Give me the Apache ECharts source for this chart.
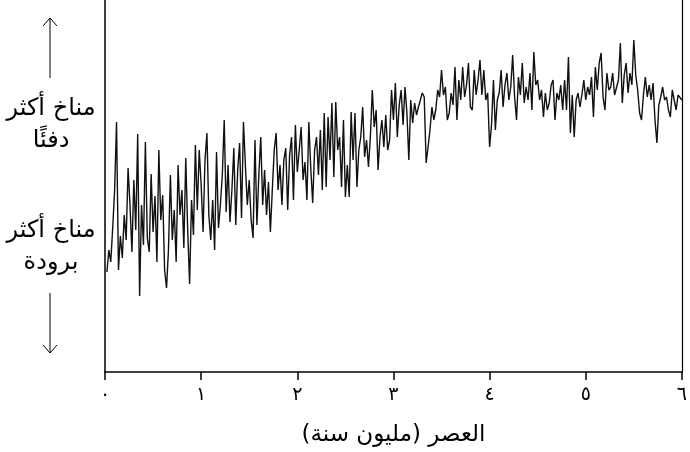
<!DOCTYPE html>
<html>
<head>
<meta charset="utf-8">
<script src="https://cdn.jsdelivr.net/npm/echarts@6/dist/echarts.min.js"></script>
<style>html,body{margin:0;padding:0;background:#fff}#c{width:690px;height:452px}</style>
</head>
<body>
<div id="c"></div>
<script>
// Climate proxy index (inverted scale: smaller = warmer), sampled every ageStep Ma starting at ageStep
var ageStep = 0.02;
var proxyValues = [
272,250,262,228,190,122,270,236,258,215,
240,168,205,252,180,230,134,296,205,245,
142,238,252,174,232,196,262,150,220,195,
270,288,250,175,240,210,262,165,215,190,
248,158,230,284,200,235,145,210,150,
185,232,160,133,215,240,200,250,152,228,
205,175,120,212,165,222,190,148,225,170,
143,218,122,165,205,180,220,238,140,225,
175,137,205,170,215,182,232,190,150,133,
190,165,205,160,148,210,155,137,200,
125,172,150,127,180,162,200,122,168,203,
150,137,175,130,190,113,187,117,160,103,
177,102,150,137,187,120,197,165,197,112,
160,113,187,150,137,107,157,140,167,137,
90,127,110,170,137,120,147,115,
150,140,90,120,83,137,105,90,125,87,
113,160,100,123,103,115,107,100,93,97,
163,147,130,107,120,110,90,97,70,95,
87,120,113,93,105,67,120,80,100,67,
97,85,63,107,110,70,95,80,60,
95,70,100,93,147,125,80,130,100,93,
70,107,85,73,100,87,55,97,120,77,
95,63,103,87,100,73,110,52,85,80,
100,90,117,93,110,103,85,80,120,93,
100,85,110,80,110,57,133,95,
137,100,93,107,95,80,100,87,95,77,
117,67,90,63,53,97,110,73,90,87,
73,95,93,80,43,103,75,63,93,73,
85,40,75,90,113,120,95,77,97,85,
100,83,120,143,105,97,87,100,97,110,
117,90,100,110,95,97,100
];
var tickLabels = ['٠','١','٢','٣','٤','٥','٦'];
var RLM = '\u200F';
var xTitle = RLM + 'العصر (مليون سنة)' + RLM;
var climateText = 'مناخ أكثر';
var warmWord = 'دفئًا';
var coldWord = 'برودة';

var seriesData = proxyValues.map(function (v, i) {
  return [+((i + 1) * ageStep).toFixed(2), v];
});

var FONT = '"DejaVu Sans", sans-serif';
var chart = echarts.init(document.getElementById('c'), null, {renderer: 'canvas'});
function label(text, y) {
  return {type: 'text', x: 51, y: y, style: {text: text, fontSize: 24, fontFamily: FONT, fill: '#000', align: 'center', verticalAlign: 'middle'}};
}
chart.setOption({
  animation: false,
  grid: {left: 105, right: 4, top: 0, bottom: 80},
  xAxis: {
    type: 'value', min: 0, max: 6, interval: 1,
    axisLine: {show: true, onZero: false, lineStyle: {color: '#000', width: 1.5}},
    axisTick: {show: true, length: 8, lineStyle: {color: '#000', width: 1.5}},
    axisLabel: {
      margin: 14, fontSize: 19, color: '#000', fontFamily: FONT,
      formatter: function (v) { return tickLabels[Math.round(v)]; }
    },
    splitLine: {show: false},
    name: xTitle, nameLocation: 'middle', nameGap: 52,
    nameTextStyle: {fontSize: 23, color: '#000', fontFamily: FONT}
  },
  yAxis: [{
    type: 'value', min: 0, max: 372, inverse: true,
    axisLine: {show: true, onZero: false, lineStyle: {color: '#000', width: 1.5}},
    axisTick: {show: false}, axisLabel: {show: false}, splitLine: {show: false}
  }, {
    type: 'value', min: 0, max: 372, inverse: true, position: 'right',
    axisLine: {show: true, onZero: false, lineStyle: {color: '#000', width: 1.2}},
    axisTick: {show: false}, axisLabel: {show: false}, splitLine: {show: false}
  }],
  series: [{
    type: 'line', data: seriesData, showSymbol: false, symbol: 'none',
    lineStyle: {color: '#111', width: 1.4}
  }],
  graphic: [
    {type: 'line', shape: {x1: 50, y1: 18, x2: 50, y2: 78}, style: {stroke: '#000', lineWidth: 1}},
    {type: 'polyline', shape: {points: [[43, 26], [50, 18], [57, 26]]}, style: {stroke: '#000', lineWidth: 1, fill: null}},
    {type: 'line', shape: {x1: 50, y1: 293, x2: 50, y2: 353}, style: {stroke: '#000', lineWidth: 1}},
    {type: 'polyline', shape: {points: [[43, 345], [50, 353], [57, 345]]}, style: {stroke: '#000', lineWidth: 1, fill: null}},
    label(climateText, 109),
    label(warmWord, 141),
    label(climateText, 231),
    label(coldWord, 263)
  ]
});
</script>
</body>
</html>
